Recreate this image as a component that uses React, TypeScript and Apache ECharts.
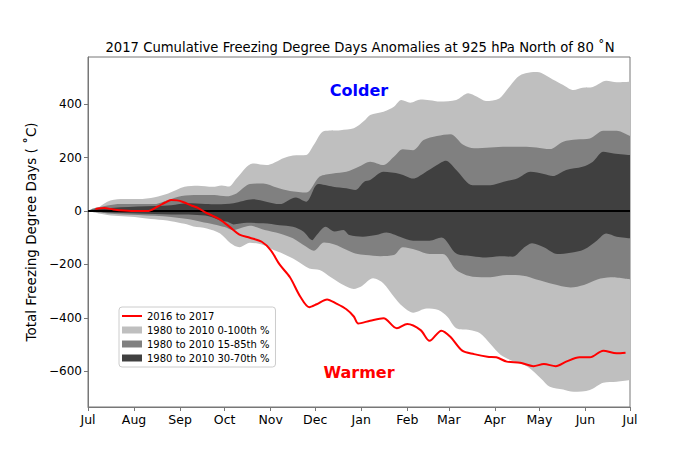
import React, { useEffect, useRef } from "react";
import * as echarts from "echarts";

const monthDays = [0, 31, 62, 92, 123, 153, 184, 215, 243, 274, 304, 335, 365];
const monthNames = ["Jul", "Aug", "Sep", "Oct", "Nov", "Dec", "Jan", "Feb", "Mar", "Apr", "May", "Jun", "Jul"];
const yTicks = [-600, -400, -200, 0, 200, 400];

// 0-100th percentile band (max / min)
const p100 = [[0,0],[5,6],[13,35],[22,45],[34,45],[45,52],[54,66],[65,91],[74,95],[84,91],[90,96],[95,92],[100,122],[111,178],[120,172],[132,199],[138,208],[147,210],[152,247],[159,300],[170,303],[179,310],[186,338],[190,360],[199,372],[206,391],[211,416],[217,406],[224,418],[230,415],[237,410],[248,416],[256,441],[262,428],[268,412],[277,422],[282,453],[289,500],[293,513],[300,521],[305,518],[313,493],[320,472],[327,453],[333,462],[340,465],[349,488],[356,482],[365,484]];
const p0 = [[0,0],[13,-15],[34,-24],[45,-31],[56,-38],[65,-48],[71,-58],[80,-65],[89,-84],[96,-121],[102,-136],[109,-119],[118,-127],[125,-146],[131,-159],[140,-184],[149,-215],[156,-221],[163,-246],[172,-277],[179,-292],[184,-283],[192,-252],[199,-271],[206,-321],[212,-358],[219,-381],[228,-365],[236,-371],[242,-396],[248,-439],[257,-446],[264,-458],[271,-498],[278,-539],[287,-564],[296,-583],[305,-627],[311,-658],[320,-668],[327,-677],[338,-670],[347,-643],[356,-639],[365,-633]];
// 15-85th percentile band
const p85 = [[0,0],[4,10],[22,26],[34,26],[45,26],[54,41],[63,56],[74,60],[85,60],[93,55],[100,66],[109,101],[118,103],[127,88],[136,75],[147,69],[156,129],[165,141],[174,147],[183,168],[190,185],[199,172],[206,203],[212,231],[219,228],[226,266],[235,281],[244,288],[253,247],[260,235],[271,238],[282,241],[293,241],[302,238],[311,232],[320,260],[329,268],[338,272],[347,301],[356,301],[365,281]];
const p15 = [[0,0],[13,-9],[34,-15],[56,-22],[67,-30],[76,-40],[85,-50],[92,-60],[98,-72],[104,-62],[109,-55],[119,-71],[129,-84],[138,-102],[147,-134],[152,-149],[159,-118],[166,-125],[174,-145],[180,-159],[187,-165],[197,-169],[206,-165],[212,-136],[221,-146],[230,-161],[239,-161],[248,-221],[259,-246],[271,-248],[282,-240],[293,-242],[302,-256],[313,-273],[325,-286],[334,-277],[343,-256],[352,-248],[365,-256]];
// 30-70th percentile band
const p70 = [[0,0],[4,6],[22,14],[45,19],[56,22],[67,29],[79,26],[87,25],[98,29],[111,44],[120,35],[129,26],[140,51],[147,35],[155,101],[165,91],[174,85],[180,79],[186,110],[190,116],[199,147],[210,139],[219,122],[226,141],[235,172],[241,188],[248,154],[259,97],[271,97],[280,110],[289,122],[298,147],[307,139],[313,131],[322,154],[333,166],[340,185],[347,222],[354,216],[365,210]];
const p30 = [[0,0],[13,-5],[34,-9],[56,-13],[79,-17],[89,-35],[94,-40],[98,-50],[107,-44],[118,-46],[129,-53],[138,-59],[145,-77],[151,-109],[154,-90],[160,-59],[166,-77],[172,-71],[176,-90],[185,-96],[194,-90],[201,-80],[210,-96],[219,-111],[230,-111],[238,-99],[248,-159],[259,-169],[268,-174],[277,-169],[286,-171],[293,-140],[299,-121],[307,-136],[316,-161],[325,-156],[334,-144],[343,-109],[349,-84],[356,-96],[365,-102]];
// 2016 to 2017 season
const season = [[5,8],[11,11],[17,6],[24,2],[34,0],[40,0],[47,17],[52,32],[56,41],[60,40],[64,34],[70,20],[74,12],[79,-5],[84,-18],[89,-32],[96,-62],[102,-88],[109,-100],[117,-115],[123,-146],[129,-200],[136,-248],[143,-321],[149,-360],[154,-349],[161,-331],[167,-346],[174,-368],[179,-395],[182,-421],[190,-411],[199,-402],[208,-439],[215,-423],[224,-446],[230,-486],[238,-448],[244,-471],[252,-523],[260,-536],[269,-546],[275,-548],[282,-564],[291,-568],[300,-581],[307,-573],[315,-581],[322,-564],[331,-548],[338,-548],[347,-523],[356,-533],[362,-531]];
const zeroLine = [[0,0],[365,0]];

const NAME_RED = "2016 to 2017";
const NAME_100 = "1980 to 2010 0-100th %";
const NAME_85 = "1980 to 2010 15-85th %";
const NAME_70 = "1980 to 2010 30-70th %";

const FONT = "DejaVu Sans";

function band(name: string, data: number[][], color: string) {
  return {
    name,
    type: "line",
    data,
    smooth: 0.3,
    symbol: "none",
    color,
    lineStyle: { width: 0, color },
    areaStyle: { color, opacity: 1, origin: 0 },
    silent: true,
  };
}

export default function App() {
  const ref = useRef<HTMLDivElement>(null);
  useEffect(() => {
    const chart = echarts.init(ref.current!, null, { renderer: "svg" });
    chart.setOption({
      animation: false,
      textStyle: { fontFamily: FONT, color: "#000" },
      title: {
        text: "2017 Cumulative Freezing Degree Days Anomalies at 925 hPa North of 80 \u02daN",
        left: 360,
        top: 41,
        padding: 0,
        textAlign: "center",
        textStyle: { fontFamily: FONT, fontSize: 13.2, fontWeight: "normal", color: "#000" },
      },
      grid: {
        left: 88,
        right: 70,
        top: 57,
        bottom: 60,
        show: true,
        borderColor: "#777",
        borderWidth: 1,
        backgroundColor: "#fff",
      },
      legend: {
        orient: "vertical",
        left: 119,
        top: 307,
        padding: [2, 6, 2, 3],
        itemWidth: 20,
        itemHeight: 7,
        itemGap: 0,
        backgroundColor: "rgba(255,255,255,0.8)",
        borderColor: "#ccc",
        borderWidth: 1,
        borderRadius: 3,
        selectedMode: false,
        textStyle: { fontFamily: FONT, fontSize: 10, lineHeight: 14, color: "#000" },
        data: [
          { name: NAME_RED, icon: "path://M0,0h20v2h-20z", itemStyle: { color: "#ff0000" } },
          { name: NAME_100, icon: "rect", itemStyle: { color: "#bfbfbf" } },
          { name: NAME_85, icon: "rect", itemStyle: { color: "#808080" } },
          { name: NAME_70, icon: "rect", itemStyle: { color: "#404040" } },
        ],
      },
      xAxis: {
        type: "value",
        min: 0,
        max: 365,
        splitLine: { show: false },
        axisLine: { show: true, onZero: false, lineStyle: { color: "#777", width: 1 } },
        axisTick: { show: true, customValues: monthDays, length: 4, lineStyle: { color: "#777" } },
        axisLabel: {
          customValues: monthDays,
          margin: 6,
          fontFamily: FONT,
          fontSize: 12.5,
          color: "#000",
          formatter: (v: number) => monthNames[monthDays.indexOf(Math.round(v))] ?? "",
        },
      },
      yAxis: {
        type: "value",
        min: -734,
        max: 577,
        name: "Total Freezing Degree Days ( \u02daC)",
        nameLocation: "middle",
        nameGap: 43,
        nameTextStyle: { fontFamily: FONT, fontSize: 13.5, color: "#000" },
        splitLine: { show: false },
        axisLine: { show: true, lineStyle: { color: "#777", width: 1 } },
        axisTick: { show: true, customValues: yTicks, length: 4, lineStyle: { color: "#777" } },
        axisLabel: {
          customValues: yTicks,
          margin: 6,
          fontFamily: FONT,
          fontSize: 12,
          color: "#000",
          formatter: (v: number) => (v < 0 ? "\u2212" + Math.abs(v) : String(v)),
        },
      },
      graphic: [
        {
          type: "text",
          x: 359,
          y: 90,
          style: {
            text: "Colder",
            fill: "#0000ff",
            font: `bold 16px '${FONT}'`,
            textAlign: "center",
            textVerticalAlign: "middle",
          },
          z: 100,
        },
        {
          type: "text",
          x: 359,
          y: 372,
          style: {
            text: "Warmer",
            fill: "#ff0000",
            font: `bold 16px '${FONT}'`,
            textAlign: "center",
            textVerticalAlign: "middle",
          },
          z: 100,
        },
      ],
      series: [
        band(NAME_100, p100, "#bfbfbf"),
        band(NAME_100, p0, "#bfbfbf"),
        band(NAME_85, p85, "#808080"),
        band(NAME_85, p15, "#808080"),
        band(NAME_70, p70, "#404040"),
        band(NAME_70, p30, "#404040"),
        {
          name: "zero",
          type: "line",
          data: zeroLine,
          symbol: "none",
          silent: true,
          lineStyle: { color: "#000", width: 2 },
        },
        {
          name: NAME_RED,
          type: "line",
          data: season,
          smooth: 0.3,
          symbol: "none",
          color: "#ff0000",
          lineStyle: { color: "#ff0000", width: 2 },
          silent: true,
        },
      ],
    });
    return () => chart.dispose();
  }, []);
  return (
    <div
      ref={ref}
      style={{ position: "fixed", left: 0, top: 0, width: 700, height: 467, background: "#fff" }}
    />
  );
}
